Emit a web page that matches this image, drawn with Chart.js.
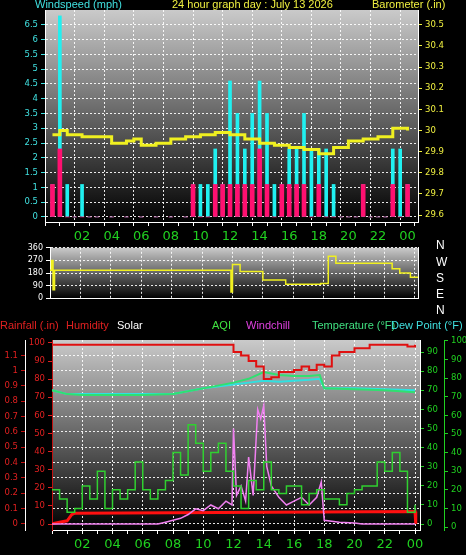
<!DOCTYPE html>
<html>
<head>
<meta charset="utf-8">
<script src="https://cdn.jsdelivr.net/npm/chart.js@4/dist/chart.umd.min.js"></script>
<style>
  body { margin: 0; background: #000; width: 466px; height: 555px; overflow: hidden; position: relative; font-family: "Liberation Sans", sans-serif; }
  canvas { position: absolute; left: 0; }
  .lbl { position: absolute; font-size: 11px; white-space: nowrap; }
</style>
</head>
<body>
<canvas id="top" style="top:0px" width="466" height="245"></canvas>
<canvas id="mid" style="top:240px" width="466" height="66"></canvas>
<canvas id="bot" style="top:318px" width="466" height="237"></canvas>

<div class="lbl" style="left:35px;top:-2px;color:#40e0e0">Windspeed (mph)</div>
<div class="lbl" style="left:172px;top:-2px;color:#f0f040">24 hour graph day : July 13 2026</div>
<div class="lbl" style="left:372px;top:-2px;color:#f0f040">Barometer (.in)</div>

<div class="lbl" style="left:436px;top:238px;color:#fff;font-size:12px">N</div>
<div class="lbl" style="left:436px;top:255px;color:#fff;font-size:12px">W</div>
<div class="lbl" style="left:436px;top:271px;color:#fff;font-size:12px">S</div>
<div class="lbl" style="left:436px;top:287px;color:#fff;font-size:12px">E</div>
<div class="lbl" style="left:436px;top:303px;color:#fff;font-size:12px">N</div>

<div class="lbl" style="left:0;top:319px;color:#e02020">Rainfall (.in)</div>
<div class="lbl" style="left:66px;top:319px;color:#e02020">Humidity</div>
<div class="lbl" style="left:117px;top:319px;color:#fff">Solar</div>
<div class="lbl" style="left:212px;top:319px;color:#40e040">AQI</div>
<div class="lbl" style="left:246px;top:319px;color:#e040e0">Windchill</div>
<div class="lbl" style="left:312px;top:319px;color:#40e080">Temperature (°F)</div>
<div class="lbl" style="left:391px;top:319px;color:#40e0e0">Dew Point (°F)</div>

<script>
// ---- data ----
const windTimes = [0, 0.5, 1, 1.5, 2, 2.5, 3, 4, 5, 6, 7, 8, 9, 9.5, 10, 10.5, 11, 11.5, 12, 12.5, 13, 13.5, 14, 14.5, 15, 15.5, 16, 16.5, 17, 17.5, 18, 18.5, 19, 19.5, 20, 20.5, 21, 21.5, 22, 22.5, 23, 23.5, 24];
const gustValues = [1.1, 6.8, 1.1, 0, 1.1, 0, 0, 0, 0, 0, 0, 0, 0, 1.1, 1.1, 1.1, 2.3, 1.1, 4.6, 3.5, 2.3, 3.5, 4.6, 3.5, 1.1, 1.1, 2.3, 2.3, 3.5, 2.3, 2.3, 2.3, 1.1, 0, 0, 0, 1.1, 0, 0, 0, 2.3, 2.3, 1.1];
const avgValues = [1.1, 2.3, 0, 0, 0, 0, 0, 0, 0, 0, 0, 0, 0, 1.1, 0, 0, 1.1, 1.1, 1.1, 1.1, 1.1, 1.1, 2.3, 1.1, 0, 1.1, 1.1, 1.1, 1.1, 0, 1.1, 0, 0, 0, 0, 0, 1.1, 0, 0, 0, 1.1, 0, 1.1];

const baroTimes = [0, 0.5, 1, 2, 3, 4, 5, 5.5, 6, 7, 8, 9, 10, 11, 12, 13, 14, 15, 16, 17, 18, 19, 20, 21, 22, 23, 24];
const baroValues = [29.98, 30.0, 29.98, 29.97, 29.97, 29.94, 29.95, 29.96, 29.93, 29.94, 29.96, 29.97, 29.98, 29.99, 29.98, 29.96, 29.94, 29.93, 29.92, 29.91, 29.89, 29.92, 29.95, 29.96, 29.97, 30.01, 30.0];

const dirTimes = [0, 0.1, 0.2, 0.3, 11.85, 11.9, 12.0, 12.5, 14.0, 15.5, 17.8, 18.3, 18.8, 22.5, 23.0, 23.7, 24.2];
const dirValues = [200, 270, 60, 200, 200, 45, 240, 190, 130, 100, 105, 300, 250, 210, 180, 150, 150];

const humTimes = [0, 11.6, 12, 12.5, 13, 13.5, 14, 14.5, 15, 16, 16.5, 17, 17.5, 18, 18.5, 19, 20, 21, 23.5, 24];
const humValues = [99, 99, 95, 93, 90, 87, 80, 81, 84, 85, 87, 85, 88, 87, 93, 95, 97, 99, 98, 99];

const tempTimes = [0, 1, 2, 4, 6, 8, 10, 12, 13, 14, 15, 16, 17, 17.7, 18, 20, 22, 24];
const tempValues = [70, 68, 67.5, 67.5, 67.5, 68, 71, 74, 76, 79.5, 78, 77.5, 77.5, 78, 71, 70.5, 70, 69];
const dewValues = [70, 68, 68, 68, 68, 68, 71, 73, 74, 75, 74.5, 75, 75.5, 76, 71, 71, 70.5, 70];

const aqiTimes = [0, 0.5, 1, 1.5, 2, 2.5, 3, 3.5, 4, 4.5, 5, 5.5, 6, 6.5, 7, 7.5, 8, 8.5, 9, 9.5, 10, 10.5, 11, 11.5, 12, 12.5, 13, 13.5, 14, 14.5, 15, 15.5, 16, 16.5, 17, 17.5, 18, 18.5, 19, 19.5, 20, 20.5, 21, 21.5, 22, 22.5, 23, 23.5, 24];
const aqiValues = [20, 15, 8, 10, 22, 15, 30, 10, 20, 15, 20, 35, 20, 15, 20, 25, 40, 28, 55, 45, 30, 40, 45, 30, 22, 10, 25, 20, 35, 20, 18, 22, 22, 12, 18, 20, 15, 15, 12, 18, 20, 22, 22, 35, 30, 40, 30, 8, 12];

const chillTimes = [0, 7, 7.5, 8, 8.5, 9, 9.5, 10, 10.5, 11, 11.5, 11.9, 12, 12.2, 12.5, 12.8, 13, 13.3, 13.6, 13.8, 14, 14.2, 14.5, 15, 15.5, 16, 16.5, 17, 17.5, 17.8, 18, 19, 20, 20.5, 24];
const chillValues = [0, 0, 1, 2, 3, 5, 8, 7, 10, 8, 12, 10, 50, 15, 20, 12, 35, 15, 60, 55, 62, 30, 20, 14, 10, 12, 14, 10, 14, 22, 2, 1, 0.5, 0, 0];

const rainTimes = [0, 0.5, 1, 1.3, 1.5, 24, 24.05];
const rainValues = [0, 0.01, 0.02, 0.06, 0.07, 0.08, 0.0];

const hourTicks = [0, 1, 2, 3, 4, 5, 6, 7, 8, 9, 10, 11, 12, 13, 14, 15, 16, 17, 18, 19, 20, 21, 22, 23, 24];
const windTicks = [0, 0.5, 1, 1.5, 2, 2.5, 3, 3.5, 4, 4.5, 5, 5.5, 6, 6.5];
const baroTicks = [29.6, 29.7, 29.8, 29.9, 30.0, 30.1, 30.2, 30.3, 30.4, 30.5];
const dirTicks = [0, 90, 180, 270, 360];
const humTicks = [0, 10, 20, 30, 40, 50, 60, 70, 80, 90, 100];
const rainTicks = [0, 0.1, 0.2, 0.3, 0.4, 0.5, 0.6, 0.7, 0.8, 0.9, 1, 1.1];
const tempTicks = [0, 10, 20, 30, 40, 50, 60, 70, 80, 90];
const aqiTicks = [0, 10, 20, 30, 40, 50, 60, 70, 80, 90, 100];

const pts = (xs, ys) => xs.map((x, i) => ({ x: x, y: ys[i] }));
const useTicks = (list) => (s) => { s.ticks = list.map((v) => ({ value: v })); };

// ---- shared look ----
const bgPlugin = {
  id: "bg",
  beforeDraw(chart) {
    const { ctx, chartArea: a } = chart;
    const g = ctx.createLinearGradient(0, a.top, 0, a.bottom);
    g.addColorStop(0, "#cacaca");
    g.addColorStop(1, "#000");
    ctx.fillStyle = g;
    ctx.fillRect(a.left, a.top, a.width, a.height);
  },
};

const hourLabel = (v) => (v % 2 === 0 && v > 0 ? String(v % 24).padStart(2, "0") : "");
const fixW = (w) => (s) => { s.width = w; };
const fixH = (h) => (s) => { s.height = h; };
const dots = [2, 2];
const gridWhite = "rgba(255,255,255,0.9)";

function xAxis(max, showLabels, h) {
  return {
    type: "linear", min: 0, max: max,
    afterFit: fixH(h),
    afterBuildTicks: useTicks(hourTicks),
    border: { color: "#fff", dash: dots },
    grid: {
      color: (c) => (c.tick && c.tick.value % 2 === 0 && c.tick.value > 0 ? gridWhite : "transparent"),
      tickColor: "#fff", tickLength: 4, drawTicks: showLabels,
    },
    ticks: {
      autoSkip: false, maxRotation: 0,
      color: "#20d020", font: { size: 13, family: "DejaVu Sans" },
      display: showLabels,
      callback: hourLabel,
    },
  };
}

function yAxis(pos, min, max, w, list, color, opts) {
  return Object.assign({
    position: pos, min: min, max: max, afterFit: fixW(w),
    afterBuildTicks: useTicks(list),
    border: { color: "#fff" },
    grid: { drawOnChartArea: false, tickColor: color, tickLength: 4 },
    ticks: { color: color, font: { size: 8.5 }, callback: (v) => +v.toFixed(1) },
  }, opts || {});
}

Chart.defaults.animation = false;
Chart.defaults.responsive = false;
Chart.defaults.plugins.legend.display = false;
Chart.defaults.plugins.tooltip.enabled = false;
Chart.defaults.elements.point.radius = 0;
Chart.defaults.font.family = "DejaVu Sans";
Chart.defaults.borderColor = gridWhite;

// ---- top: wind + barometer ----
new Chart(document.getElementById("top"), {
  type: "bar",
  data: {
    datasets: [
      { type: "line", data: pts(baroTimes, baroValues), yAxisID: "yb", borderColor: "#f0f020", borderWidth: 3, stepped: true, order: 0 },
      { data: pts(windTimes, avgValues), yAxisID: "yw", backgroundColor: "#ff1070", barThickness: 4, grouped: false, order: 1 },
      { data: pts(windTimes, gustValues), yAxisID: "yw", backgroundColor: "#20f0f0", barThickness: 3, grouped: false, order: 2 },
    ],
  },
  options: {
    layout: { padding: { top: 10 } },
    scales: {
      x: xAxis(24.2, true, 23),
      yw: yAxis("left", -0.17, 7.0, 45, windTicks, "#40e0e0", {
        border: { color: "#fff", dash: dots },
        grid: { color: gridWhite, tickColor: "#40e0e0", tickLength: 4 },
      }),
      yb: yAxis("right", 29.567, 30.57, 48, baroTicks, "#f0f040"),
    },
  },
  plugins: [bgPlugin],
});

// ---- middle: wind direction ----
new Chart(document.getElementById("mid"), {
  type: "line",
  data: { datasets: [{ data: pts(dirTimes, dirValues), borderColor: "#f0f020", borderWidth: 1.5, stepped: true }] },
  options: {
    layout: { padding: { top: 6, bottom: 5 } },
    scales: {
      x: xAxis(24.2, false, 0),
      y: yAxis("left", 0, 360, 50, dirTicks, "#fff", {
        border: { color: "#fff", dash: dots },
        grid: { color: gridWhite, tickColor: "#fff", tickLength: 4 },
        ticks: { color: "#fff", font: { size: 8 } },
      }),
      yr: { position: "right", min: 0, max: 360, afterFit: fixW(48), grid: { drawOnChartArea: false, drawTicks: false }, ticks: { display: false }, border: { color: "#fff" } },
    },
  },
  plugins: [bgPlugin],
});

// ---- bottom: rain, humidity, temp, dew, AQI, windchill ----
new Chart(document.getElementById("bot"), {
  type: "line",
  data: {
    datasets: [
      { data: pts(humTimes, humValues), yAxisID: "yh", borderColor: "#e01010", borderWidth: 2, stepped: true },
      { data: pts(tempTimes, tempValues), yAxisID: "yt", borderColor: "#30e070", borderWidth: 2 },
      { data: pts(tempTimes, dewValues), yAxisID: "yt", borderColor: "#30e0e0", borderWidth: 2 },
      { data: pts(aqiTimes, aqiValues), yAxisID: "yq", borderColor: "#30d030", borderWidth: 1.5, stepped: true },
      { data: pts(chillTimes, chillValues), yAxisID: "yt", borderColor: "#f080f0", borderWidth: 1.5 },
      { data: pts(rainTimes, rainValues), yAxisID: "yr", borderColor: "#ff1010", borderWidth: 3 },
    ],
  },
  options: {
    layout: { padding: { top: 22 } },
    scales: {
      x: xAxis(24.33, true, 25),
      yh: yAxis("left", -3.3, 101.6, 27, humTicks, "#e02020", { border: { color: "#c01010" } }),
      yr: yAxis("left", -0.04, 1.2, 25, rainTicks, "#e02020", {
        border: { color: "#fff", dash: dots },
        grid: { color: gridWhite, tickColor: "#c01010", tickLength: 4 },
      }),
      yt: yAxis("right", -3.1, 96.3, 24, tempTicks, "#20d020"),
      yq: yAxis("right", -1.6, 100.5, 22, aqiTicks, "#20d020", { border: { color: "#20d020" } }),
    },
  },
  plugins: [bgPlugin],
});
</script>
</body>
</html>
